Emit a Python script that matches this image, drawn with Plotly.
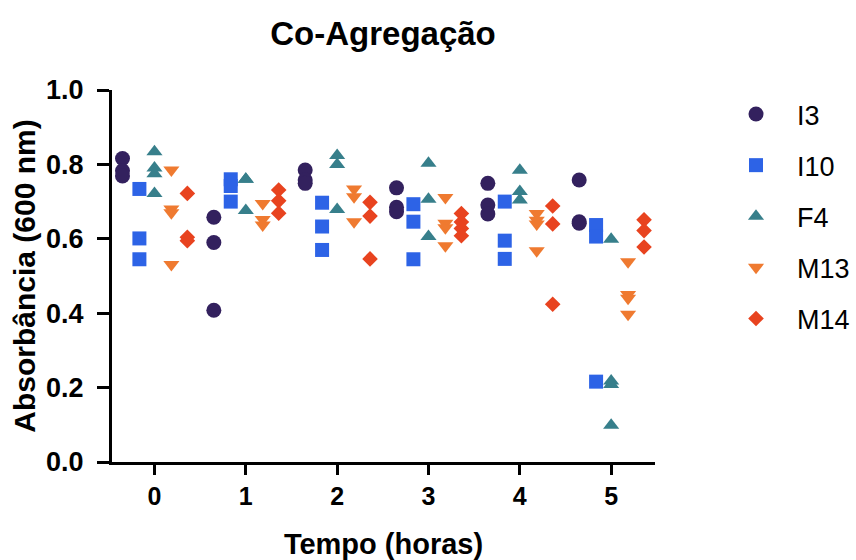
import plotly.graph_objects as go

times = [0, 1, 2, 3, 4, 5]
series_names = ["I3", "I10", "F4", "M13", "M14"]

I3 = [[0.816, 0.783, 0.769], [0.658, 0.590, 0.408], [0.785, 0.758, 0.749],
      [0.737, 0.685, 0.673], [0.749, 0.691, 0.667], [0.758, 0.646, 0.642]]
I10 = [[0.734, 0.601, 0.545], [0.760, 0.742, 0.700], [0.697, 0.633, 0.570],
       [0.693, 0.646, 0.545], [0.700, 0.595, 0.546], [0.637, 0.606, 0.216]]
F4 = [[0.834, 0.790, 0.775, 0.722], [0.760, 0.760, 0.676], [0.824, 0.800, 0.679],
      [0.803, 0.706, 0.606], [0.784, 0.727, 0.704], [0.599, 0.218, 0.208, 0.099]]
M13 = [[0.785, 0.680, 0.670, 0.531], [0.695, 0.652, 0.637], [0.734, 0.713, 0.646],
       [0.711, 0.642, 0.630, 0.581], [0.668, 0.650, 0.640, 0.568], [0.538, 0.450, 0.440, 0.397]]
M14 = [[0.722, 0.604, 0.595], [0.731, 0.702, 0.669], [0.698, 0.661, 0.546],
       [0.668, 0.645, 0.628, 0.608], [0.688, 0.640, 0.424], [0.651, 0.622, 0.578]]

data = [I3, I10, F4, M13, M14]
offsets = [-0.35, -0.165, 0.0, 0.185, 0.36]
colors = ["#33215e", "#2d63e6", "#377f8b", "#ef7a30", "#e8431f"]
symbols = ["circle", "square", "triangle-up", "triangle-down", "diamond"]
sizes = [15, 14, 14, 14, 12]

FONT = "Arial, Liberation Sans, Helvetica, sans-serif"

fig = go.Figure()
for name, vals, off, col, sym, sz in zip(series_names, data, offsets, colors, symbols, sizes):
    xs, ys = [], []
    for t, group in zip(times, vals):
        for v in group:
            xs.append(t + off)
            ys.append(v)
    fig.add_trace(go.Scatter(
        x=xs, y=ys, mode="markers", name=name, legendgroup=name,
        marker=dict(symbol=sym, size=sz, color=col, line=dict(width=0)),
    ))

fig.update_layout(
    width=856, height=560,
    margin=dict(l=112, r=201, t=90, b=98, autoexpand=False),
    plot_bgcolor="white", paper_bgcolor="white",
    title=dict(text="<b>Co-Agregação</b>", x=383 / 856, xanchor="center",
               y=1 - 33 / 560, yanchor="middle",
               font=dict(family=FONT, size=33, color="black")),
    xaxis=dict(range=[-0.465, 5.48], tickvals=times, ticktext=[str(t) for t in times],
               automargin=False,
               showgrid=False, zeroline=False, showline=True, linecolor="black", linewidth=3,
               ticks="outside", ticklen=10, tickwidth=3, tickcolor="black",
               tickfont=dict(family=FONT, size=25, color="black", weight="bold"),
               title=dict(text="<b>Tempo (horas)</b>", standoff=30,
                          font=dict(family=FONT, size=29, color="black"))),
    yaxis=dict(range=[0, 1], tickvals=[0, 0.2, 0.4, 0.6, 0.8, 1.0], tickformat=".1f",
               automargin=False,
               showgrid=False, zeroline=False, showline=True, linecolor="black", linewidth=3,
               ticks="outside", ticklen=12, tickwidth=3, tickcolor="black",
               ticklabelstandoff=8,
               tickfont=dict(family=FONT, size=27, color="black", weight="bold"),
               title=dict(text="<b>Absorbância (600 nm)</b>", standoff=2,
                          font=dict(family=FONT, size=30, color="black"))),
    legend=dict(x=715 / 856, xref="container", y=1 - 90 / 560, yref="container",
                xanchor="left", yanchor="top", traceorder="grouped", tracegroupgap=13,
                itemwidth=72,
                font=dict(family=FONT, size=27, color="black"), itemsizing="trace"),
    showlegend=True,
)

fig.write_html("out.html")
